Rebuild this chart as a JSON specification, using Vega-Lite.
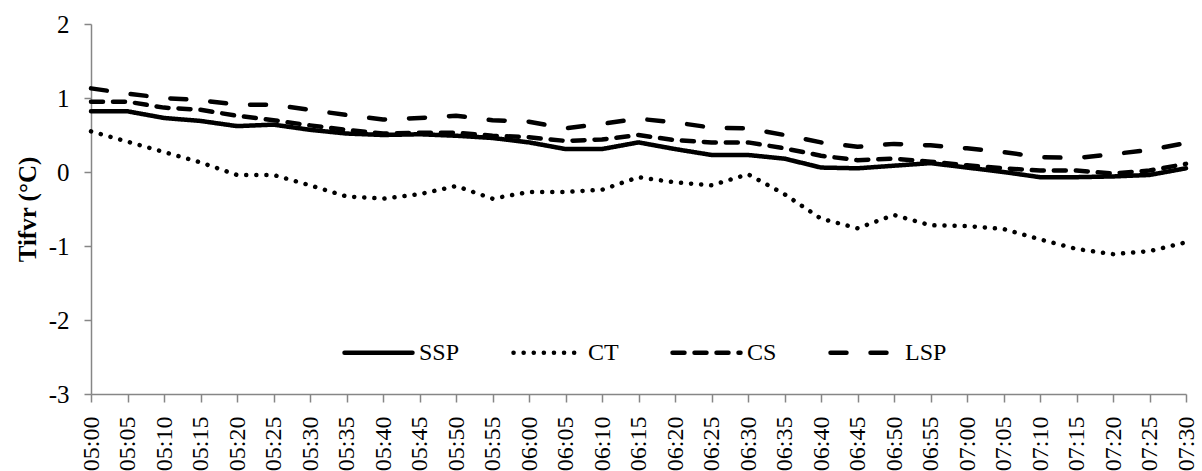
{
  "$schema": "https://vega.github.io/schema/vega-lite/v6.json",
  "width": 1095,
  "height": 370,
  "autosize": {"type": "none"},
  "padding": {"left": 91, "top": 24, "right": 16, "bottom": 77},
  "background": "white",
  "data": {"values": [
    {"t":"05:00","SSP":0.82,"CT":0.55,"CS":0.95,"LSP":1.13},
    {"t":"05:05","SSP":0.82,"CT":0.41,"CS":0.95,"LSP":1.06},
    {"t":"05:10","SSP":0.73,"CT":0.27,"CS":0.87,"LSP":1.00},
    {"t":"05:15","SSP":0.69,"CT":0.13,"CS":0.84,"LSP":0.97},
    {"t":"05:20","SSP":0.62,"CT":-0.04,"CS":0.76,"LSP":0.91},
    {"t":"05:25","SSP":0.64,"CT":-0.04,"CS":0.70,"LSP":0.91},
    {"t":"05:30","SSP":0.57,"CT":-0.18,"CS":0.63,"LSP":0.84},
    {"t":"05:35","SSP":0.52,"CT":-0.33,"CS":0.57,"LSP":0.77},
    {"t":"05:40","SSP":0.50,"CT":-0.36,"CS":0.52,"LSP":0.71},
    {"t":"05:45","SSP":0.51,"CT":-0.30,"CS":0.53,"LSP":0.73},
    {"t":"05:50","SSP":0.49,"CT":-0.19,"CS":0.53,"LSP":0.76},
    {"t":"05:55","SSP":0.46,"CT":-0.36,"CS":0.49,"LSP":0.70},
    {"t":"06:00","SSP":0.40,"CT":-0.27,"CS":0.47,"LSP":0.68},
    {"t":"06:05","SSP":0.31,"CT":-0.27,"CS":0.42,"LSP":0.59},
    {"t":"06:10","SSP":0.31,"CT":-0.24,"CS":0.44,"LSP":0.65},
    {"t":"06:15","SSP":0.40,"CT":-0.07,"CS":0.50,"LSP":0.72},
    {"t":"06:20","SSP":0.31,"CT":-0.14,"CS":0.43,"LSP":0.67},
    {"t":"06:25","SSP":0.23,"CT":-0.18,"CS":0.40,"LSP":0.60},
    {"t":"06:30","SSP":0.23,"CT":-0.03,"CS":0.40,"LSP":0.59},
    {"t":"06:35","SSP":0.18,"CT":-0.30,"CS":0.32,"LSP":0.50},
    {"t":"06:40","SSP":0.06,"CT":-0.63,"CS":0.22,"LSP":0.40},
    {"t":"06:45","SSP":0.05,"CT":-0.76,"CS":0.16,"LSP":0.34},
    {"t":"06:50","SSP":0.085,"CT":-0.58,"CS":0.18,"LSP":0.38},
    {"t":"06:55","SSP":0.12,"CT":-0.72,"CS":0.14,"LSP":0.36},
    {"t":"07:00","SSP":0.06,"CT":-0.73,"CS":0.09,"LSP":0.32},
    {"t":"07:05","SSP":0.00,"CT":-0.77,"CS":0.05,"LSP":0.27},
    {"t":"07:10","SSP":-0.07,"CT":-0.91,"CS":0.02,"LSP":0.20},
    {"t":"07:15","SSP":-0.07,"CT":-1.04,"CS":0.02,"LSP":0.19},
    {"t":"07:20","SSP":-0.06,"CT":-1.11,"CS":-0.02,"LSP":0.24},
    {"t":"07:25","SSP":-0.04,"CT":-1.07,"CS":0.02,"LSP":0.30},
    {"t":"07:30","SSP":0.05,"CT":-0.95,"CS":0.11,"LSP":0.39}
  ]},
  "transform": [{"fold": ["SSP", "CT", "CS", "LSP"], "as": ["series", "value"]}],
  "mark": {"type": "line", "color": "black", "strokeWidth": 4.5, "strokeCap": "round", "strokeJoin": "round"},
  "encoding": {
    "x": {
      "field": "t", "type": "ordinal",
      "scale": {"type": "point", "padding": 0},
      "axis": {
        "title": null, "labelAngle": -90, "labelFont": "Liberation Serif", "labelFontSize": 24,
        "labelColor": "black", "labelPadding": 14, "tickSize": 8, "tickColor": "#868686",
        "domainColor": "#868686", "domainWidth": 1.5, "tickWidth": 1.5, "grid": false
      }
    },
    "y": {
      "field": "value", "type": "quantitative",
      "scale": {"domain": [-3, 2], "nice": false, "zero": false},
      "axis": {
        "values": [-3, -2, -1, 0, 1, 2], "labelExpr": "datum.value + ''",
        "title": "Tifvr (°C)", "titleFont": "Liberation Serif", "titleFontSize": 25,
        "titleFontWeight": "bold", "titleColor": "black", "titlePadding": 8,
        "labelFont": "Liberation Serif", "labelFontSize": 25, "labelColor": "black",
        "labelPadding": 15, "tickSize": 7, "tickColor": "#868686", "domainColor": "#868686",
        "domainWidth": 1.5, "tickWidth": 1.5, "grid": false
      }
    },
    "strokeDash": {
      "field": "series", "type": "nominal",
      "scale": {"domain": ["SSP", "CT", "CS", "LSP"], "range": [[1, 0], [0.1, 10], [12, 10], [16, 24]]},
      "legend": {
        "title": null, "orient": "none", "legendX": 251, "legendY": 292, "direction": "horizontal",
        "symbolType": "stroke", "symbolSize": 4624, "symbolStrokeWidth": 4.5, "symbolStrokeColor": "black",
        "labelFont": "Liberation Serif", "labelFontSize": 24, "labelFontWeight": "normal", "labelColor": "black",
        "labelOffset": 4, "columnPadding": 44, "padding": 0,
        "encode": {"symbols": {"update": {"strokeCap": {"value": "round"}}}}
      }
    }
  },
  "config": {"view": {"stroke": null}}
}
